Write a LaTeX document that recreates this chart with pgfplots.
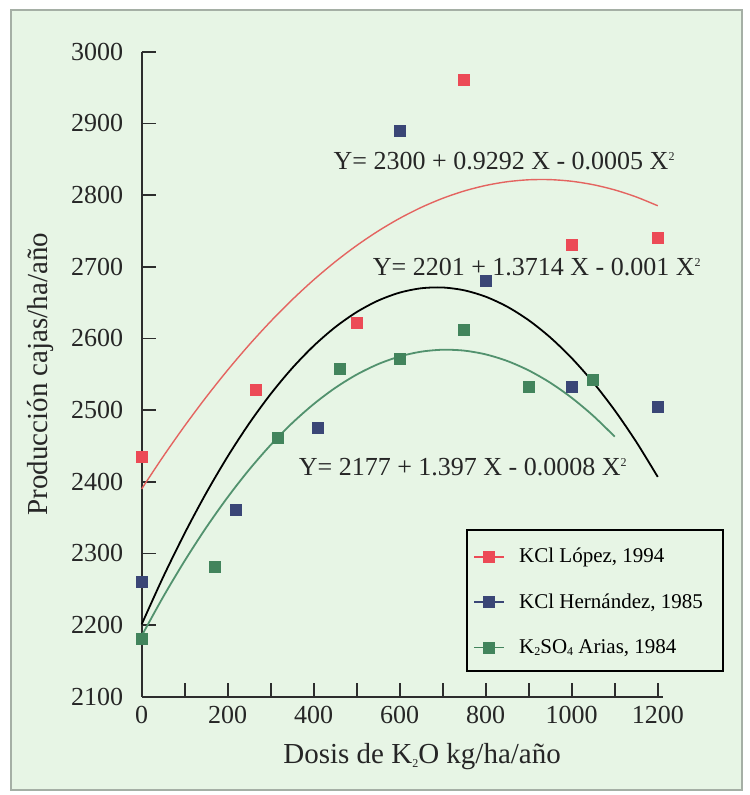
\documentclass[border=0pt]{standalone}
\usepackage{fontspec}
\setmainfont{Liberation Serif}
\usepackage{pgfplots}
\pgfplotsset{compat=1.18}
\definecolor{bg}{RGB}{231,245,229}
\definecolor{framegray}{RGB}{165,175,165}
\definecolor{axisgray}{RGB}{45,45,45}
\definecolor{redm}{RGB}{236,74,86}
\definecolor{redc}{RGB}{228,100,96}
\definecolor{bluem}{RGB}{58,70,118}
\definecolor{greenm}{RGB}{66,132,92}
\definecolor{greenc}{RGB}{82,146,110}
\newcommand{\sub}[1]{\raisebox{-0.25ex}{\fontsize{6}{6}\selectfont #1}}
\newcommand{\sq}{\raisebox{0.75ex}{\fontsize{6}{6}\selectfont 2}}
\pgfplotsset{sqleg/.style={legend image code/.code={%
  \draw[#1, line width=0.9pt] (0pt,0pt) -- (15pt,0pt);
  \fill[#1] (4.75pt,-2.75pt) rectangle (10.25pt,2.75pt);}}}
\begin{document}
\begin{tikzpicture}
\useasboundingbox (0,0) rectangle (374.5pt,397.5pt);
\fill[white] (0,0) rectangle (374.5pt,397.5pt);
\draw[line width=1pt, draw=framegray, fill=bg] (5.5pt,2.5pt) rectangle (371pt,392.5pt);
\begin{axis}[
  at={(70.85pt,49.15pt)}, anchor=south west,
  scale only axis, width=260.6pt, height=322.5pt,
  xmin=0, xmax=1212, ymin=2100, ymax=3000,
  axis x line=bottom, axis y line=left,
  axis line style={-, line width=1pt, draw=axisgray},
  xtick={0,200,...,1200}, minor xtick={100,300,...,1100},
  ytick={2100,2200,...,3000},
  tick align=inside,
  major tick length=7pt, minor tick length=7pt,
  every tick/.style={line width=0.8pt, axisgray},
  /pgf/number format/assume math mode=true,
  /pgf/number format/1000 sep={},
  ticklabel style={font=\fontsize{13}{15}\selectfont, text=black!85},
  yticklabel style={xshift=-5.7pt},
  xticklabel style={yshift=-1.3pt},
  xlabel={Dosis de K\sub{2}O kg/ha/año},
  ylabel={Producción cajas/ha/año},
  label style={font=\fontsize{14.5}{16}\selectfont, text=black!85},
  xlabel style={at={(axis description cs:0.538,-0.0935)}, anchor=center},
  ylabel style={at={(axis description cs:-0.195,0.5)}, anchor=center},
  clip=false,
  legend style={at={(axis description cs:0.6357,0.2375)}, anchor=north west,
    draw=none, fill=none, font=\fontsize{10.5}{12}\selectfont,
    row sep=10pt, column sep=5pt, inner sep=0pt, nodes={inner sep=2pt}},
  legend cell align=left,
]
% fitted curves (as drawn)
\addplot[redc, line width=0.7pt, smooth, forget plot] coordinates {
(0,2390)(50,2435.21)(100,2477.92)(150,2518.13)(200,2555.84)(250,2591.05)
(300,2623.76)(350,2653.97)(400,2681.68)(450,2706.89)(500,2729.6)(550,2749.81)
(600,2767.52)(650,2782.73)(700,2795.44)(750,2805.65)(800,2813.36)(850,2818.57)
(900,2821.28)(950,2821.49)(1000,2819.2)(1050,2814.41)(1100,2807.12)(1150,2797.33)(1200,2785.04)};
\addplot[black, line width=0.9pt, smooth, forget plot] coordinates {
(0,2201)(50,2267.07)(100,2328.14)(150,2384.21)(200,2435.28)(250,2481.35)
(300,2522.42)(350,2558.49)(400,2589.56)(450,2615.63)(500,2636.7)(550,2652.77)
(600,2663.84)(650,2669.91)(700,2670.98)(750,2667.05)(800,2658.12)(850,2644.19)
(900,2625.26)(950,2601.33)(1000,2572.4)(1050,2538.47)(1100,2499.54)(1150,2455.61)(1200,2406.68)};
\addplot[greenc, line width=0.9pt, smooth, forget plot] coordinates {
(0,2185)(50,2239.32)(100,2289.66)(150,2336.04)(200,2378.44)(250,2416.88)
(300,2451.34)(350,2481.84)(400,2508.36)(450,2530.92)(500,2549.5)(550,2564.12)
(600,2574.76)(650,2581.44)(700,2584.14)(750,2582.88)(800,2577.64)(850,2568.44)
(900,2555.26)(950,2538.12)(1000,2517)(1050,2491.92)(1100,2462.86)};
% observed points
\addplot[only marks, mark=square*, mark size=2.75pt, redm, forget plot] coordinates {
(0,2435)(265,2528)(500,2622)(750,2960)(1000,2731)(1200,2740)};
\addplot[only marks, mark=square*, mark size=2.75pt, bluem, forget plot] coordinates {
(0,2260)(218,2360)(410,2475)(600,2890)(800,2680)(1000,2532)(1200,2504)};
\addplot[only marks, mark=square*, mark size=2.75pt, greenm, forget plot] coordinates {
(0,2180)(170,2281)(316,2461)(460,2557)(600,2571)(750,2612)(900,2532)(1050,2542)};
% legend
\addlegendimage{sqleg=redm}
\addlegendentry{KCl López, 1994}
\addlegendimage{sqleg=bluem}
\addlegendentry{KCl Hernández, 1985}
\addlegendimage{sqleg=greenm}
\addlegendentry{K\sub{2}SO\sub{4} Arias, 1984}
% legend frame
\draw[black, line width=1pt] (axis description cs:0.624,0.0398) rectangle (axis description cs:1.115,0.2585);
% equations
\node[anchor=west, font=\fontsize{13}{15}\selectfont, text=black!85] at (axis cs:430,2848) {Y= 2300 + 0.9292 X - 0.0005 X\sq};
\node[anchor=west, font=\fontsize{13}{15}\selectfont, text=black!85] at (axis cs:521,2700) {Y= 2201 + 1.3714 X - 0.001 X\sq};
\node[anchor=west, font=\fontsize{13}{15}\selectfont, text=black!85] at (axis cs:349,2421) {Y= 2177 + 1.397 X - 0.0008 X\sq};
\end{axis}
\end{tikzpicture}
\end{document}
